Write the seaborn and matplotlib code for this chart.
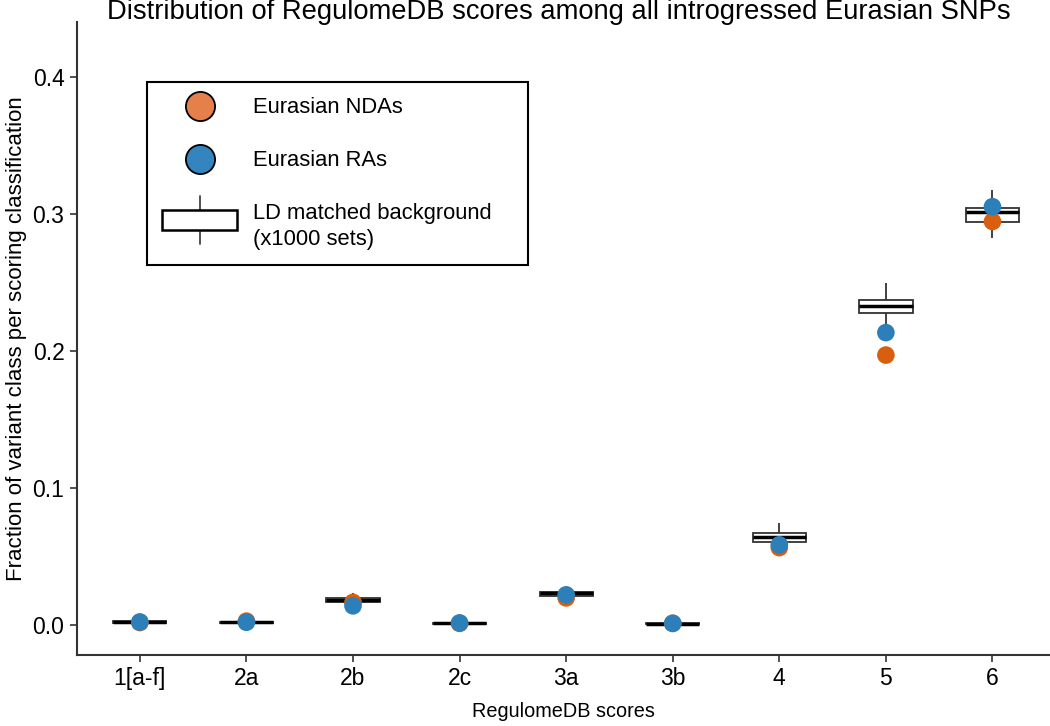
import numpy as np
import pandas as pd
import seaborn as sns
import matplotlib.pyplot as plt
from matplotlib.lines import Line2D
from matplotlib.patches import Rectangle
from matplotlib.legend_handler import HandlerBase

# RegulomeDB score classes
categories = ['1[a-f]', '2a', '2b', '2c', '3a', '3b', '4', '5', '6']

# observed fractions
nda = [0.0018, 0.0028, 0.0165, 0.0012, 0.0198, 0.0012, 0.0565, 0.1970, 0.2945]
ra = [0.0022, 0.0020, 0.0140, 0.0015, 0.0220, 0.0012, 0.0585, 0.2134, 0.3053]

# LD matched background (1000 sets), five number summary per class
bg_min = [0.0012, 0.0012, 0.0150, 0.0005, 0.0190, 0.0004, 0.0540, 0.2200, 0.2825]
bg_q1 = [0.0018, 0.0017, 0.0165, 0.0010, 0.0214, 0.0008, 0.0606, 0.2275, 0.2944]
bg_median = [0.0022, 0.0020, 0.0180, 0.0012, 0.0230, 0.0010, 0.0642, 0.2331, 0.3013]
bg_q3 = [0.0026, 0.0024, 0.0199, 0.0015, 0.0243, 0.0013, 0.0672, 0.2372, 0.3042]
bg_max = [0.0035, 0.0032, 0.0230, 0.0022, 0.0270, 0.0020, 0.0745, 0.2499, 0.3175]

orange = '#D95F0E'
blue = '#2C7FB8'

# long tables for seaborn
bg = pd.DataFrame({
    'score': np.repeat(categories, 5),
    'value': np.column_stack([bg_min, bg_q1, bg_median, bg_q3, bg_max]).ravel(),
})
pts = pd.DataFrame({
    'score': categories * 2,
    'value': nda + ra,
    'klasse': ['NDA'] * len(categories) + ['RA'] * len(categories),
})

sns.set_theme(style='ticks')
plt.rcParams['font.family'] = ['Liberation Sans', 'DejaVu Sans']
plt.rcParams['text.color'] = 'black'
plt.rcParams['axes.labelcolor'] = 'black'
plt.rcParams['xtick.labelcolor'] = 'black'
plt.rcParams['ytick.labelcolor'] = 'black'

fig = plt.figure(figsize=(10.5, 7.26), dpi=100)
ax = fig.add_axes([0.0733, 0.0978, 0.9267, 0.8719])

sns.boxplot(data=bg, x='score', y='value', order=categories, whis=(0, 100),
            width=0.5, showcaps=False, color='white', linecolor='#333333',
            linewidth=1.3, fliersize=0,
            medianprops=dict(color='black', linewidth=2.5), ax=ax)
sns.stripplot(data=pts, x='score', y='value', hue='klasse', order=categories,
              hue_order=['NDA', 'RA'], palette={'NDA': orange, 'RA': blue},
              jitter=False, size=12.7, linewidth=0, legend=False, zorder=3, ax=ax)

ax.set_xlim(-0.59, 8.54)
ax.set_ylim(-0.0219, 0.4401)
ax.set_yticks([0.0, 0.1, 0.2, 0.3, 0.4])
ax.set_yticklabels(['0.0', '0.1', '0.2', '0.3', '0.4'])
ax.tick_params(labelsize=16.5, length=5, width=1.2, color='#333333', pad=4)
for s in ['left', 'bottom']:
    ax.spines[s].set_color('#333333')
    ax.spines[s].set_linewidth(1.5)
sns.despine(ax=ax)

ax.set_xlabel('RegulomeDB scores', fontsize=14.3, labelpad=8)
ax.set_ylabel('Fraction of variant class per scoring classification', fontsize=16, labelpad=4)
fig.text(0.532, 1 - 12 / 726, 'Distribution of RegulomeDB scores among all introgressed Eurasian SNPs',
         fontsize=19.7, ha='center', va='center')


class BoxHandler(HandlerBase):
    def create_artists(self, legend, orig_handle, xdescent, ydescent,
                       width, height, fontsize, trans):
        cx = -xdescent + width / 2
        cy = -ydescent + height / 2 + 0.3 * fontsize
        bh = 0.88 * fontsize
        rect = Rectangle((-xdescent, cy - bh / 2), width, bh, facecolor='white',
                         edgecolor='black', linewidth=1.8, transform=trans)
        top = Line2D([cx, cx], [cy + bh / 2, cy + bh / 2 + 0.65 * fontsize],
                     color='#333333', linewidth=1.2, transform=trans)
        bot = Line2D([cx, cx], [cy - bh / 2, cy - bh / 2 - 0.65 * fontsize],
                     color='#333333', linewidth=1.2, transform=trans)
        return [top, bot, rect]


h_nda = Line2D([], [], marker='o', linestyle='', markersize=21, markerfacecolor='#E6804A',
               markeredgecolor='black', markeredgewidth=1.3)
h_ra = Line2D([], [], marker='o', linestyle='', markersize=21, markerfacecolor='#3484C0',
              markeredgecolor='black', markeredgewidth=1.3)
h_bg = Rectangle((0, 0), 1, 1)
leg = ax.legend([h_nda, h_ra, h_bg],
                ['Eurasian NDAs', 'Eurasian RAs', 'LD matched background\n(x1000 sets)'],
                handler_map={Rectangle: BoxHandler()},
                loc='upper left', bbox_to_anchor=(0.072, 0.6052, 0.3916, 0.3), mode='expand',
                fontsize=15.8, frameon=True, fancybox=False, edgecolor='black', framealpha=1,
                borderpad=0.7, handlelength=3.4, handletextpad=0.75, labelspacing=1.45,
                borderaxespad=0)
leg.get_frame().set_linewidth(1.5)
leg.get_texts()[2].set_linespacing(1.3)

fig.savefig('out.png', dpi=100)
